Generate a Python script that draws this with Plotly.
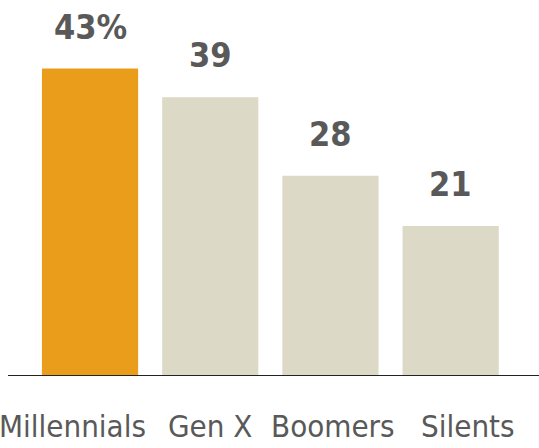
import plotly.graph_objects as go

generations = ["Millennials", "Gen X", "Boomers", "Silents"]
shares = [43, 39, 28, 21]
value_labels = ["43%", "39", "28", "21"]
bar_colors = ["#EA9D1B", "#DCD9C7", "#DCD9C7", "#DCD9C7"]
label_shift = [-18, 0, 3, 17]

W, H = 539, 448
fig = go.Figure(go.Bar(
    x=generations, y=shares, marker=dict(color=bar_colors, line=dict(width=0)),
    hoverinfo="skip",
))

value_font = dict(family="Liberation Sans Narrow, DejaVu Sans Condensed, Roboto", size=34, color="#595959")
cat_font = dict(family="Liberation Sans Narrow, DejaVu Sans Condensed, Roboto", size=31, color="#595959")

for g, v, lab in zip(generations, shares, value_labels):
    fig.add_annotation(x=g, y=v, text=f"<b>{lab}</b>", showarrow=False,
                       yanchor="bottom", yshift=20, font=value_font)

for g, dx in zip(generations, label_shift):
    fig.add_annotation(x=g, y=0, text=g, showarrow=False, yanchor="middle",
                       yshift=-50, xshift=dx, font=cat_font)

# baseline
fig.add_shape(type="line", xref="paper", yref="y", x0=8 / W, x1=1, y0=0, y1=0,
              line=dict(color="#222222", width=2))

fig.update_layout(
    width=W, height=H, margin=dict(l=0, r=0, t=0, b=72),
    paper_bgcolor="white", plot_bgcolor="white",
    bargap=0.2, showlegend=False,
    xaxis=dict(range=[-0.749, 3.735], showticklabels=False, showgrid=False,
               zeroline=False, showline=False, fixedrange=True),
    yaxis=dict(range=[0, 52.6], visible=False, fixedrange=True),
)

fig.write_html("out.html", config={"displayModeBar": False})
